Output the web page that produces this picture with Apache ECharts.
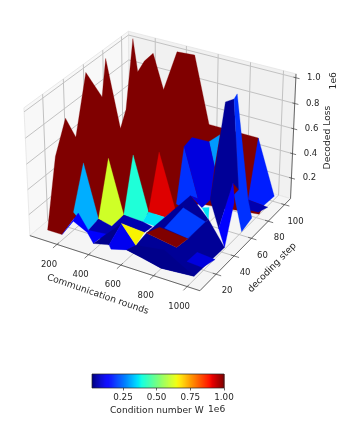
<!DOCTYPE html>
<html>
<head>
<meta charset="utf-8">
<script src="https://cdn.jsdelivr.net/npm/echarts@6/dist/echarts.min.js"></script>
<style>
html, body { margin: 0; padding: 0; background: #fff; }
#chart { width: 343px; height: 423px; }
</style>
</head>
<body>
<div id="chart"></div>
<script>
// axis ticks
const xTicks = [200, 400, 600, 800, 1000];
const yTicks = [20, 40, 60, 80, 100];
const zTicks = [0.2, 0.4, 0.6, 0.8, 1.0];
const barTicks = [0.25, 0.5, 0.75, 1.0];

// surface vertices: rounds, decoding step, loss (1e6)
const vertexX = [
  91, 105, 104, 94, 72, 122, 68, 120, 128, 87,
  129, 173, 230, 297, 383, 494, 590, 660, 899, 1012,
  1038, 668, 689, 555, 429, 304, 173, 184,
  145, 173, 334, 298, 237, 451, 429, 335, 578, 555,
  436, 686, 689, 695, 204, 444, 364, 327, 240,
  670, 620, 478, 463, 426, 630, 574, 475,
  633, 877, 916, 976, 1048, 1010, 813, 667, 724,
  739, 744, 965, 714, 950, 972, 1049, 1042, 823, 867,
  694, 702, 757, 538, 744, 665, 587, 873,
  816, 867, 963, 981, 1011, 885, 915, 1046, 1040, 935,
  990, 1024, 1037, 1032, 974, 803
];
const vertexY = [
  10, 18, 29, 40, 55, 63, 76, 82, 87, 102,
  100, 100, 100, 100, 100, 100, 100, 100, 100, 86.5,
  76, 76, 44.5, 39, 34, 29, 23.5, 10,
  39, 23.5, 13, 29, 50, 18, 34, 60, 29, 39,
  71, 34, 44.5, 23.5, 23.5, 13, 13, 13, 13,
  23.5, 23.5, 23.5, 13, 13, 13, 13, 13,
  23.5, 13, 18, 29, 34, 8, 8, 13, 55,
  44.5, 23.5, 29, 23.5, 11, 18, 23.5, 11, 50, 50,
  81, 92, 76, 81, 60, 50, 81, 50,
  76, 76, 65.5, 55, 34, 76, 86.5, 65.5, 55, 65.5,
  55, 97, 86.5, 76, 76, 13
];
const vertexZ = [
  0.05, 0.59, 0.82, 0.60, 1.01, 0.79, 1.0, 0.42, 0.55, 1.02,
  0.78, 0.88, 0.96, 0.69, 1.02, 1.03, 0.51, 0.51, 0.51, 0.09,
  0.10, 0.04, 0.205, 0.16, 0.125, 0.075, 0.08, 0.05,
  0.42, 0.135, 0.125, 0.09, 0.42, 0.17, 0.14, 0.42, 0.18, 0.18,
  0.41, 0.225, 0.22, 0.225, 0.14, 0.14, 0.03, 0.105, 0.16,
  0.215, 0.15, 0.165, 0.06, 0.11, 0.125, 0.065, 0.03,
  0.15, 0.21, 0.26, 0.36, 0.13, 0.075, 0.055, 0.04, 0.27,
  0.25, 0.235, 0.33, 0.23, 0.145, 0.175, 0.11, 0.135, 0.245, 0.265,
  0.525, 0.515, 0.38, 0.43, 0.22, 0.215, 0.52, 0.33,
  0.91, 0.95, 0.34, 0.47, 0.265, 0.995, 0.1, 0.145, 0.105, 0.29,
  0.315, 0.1, 0.085, 0.115, 0.11, 0.16
];

// facets in drawing order, back to front, with their condition number (1e6)
const facetVertices = [
  [0, 1, 2, 3, 4, 5, 6, 7, 8, 9, 10, 11, 12, 13, 14, 15, 16, 17, 18, 19, 20, 21, 22, 23, 24, 25, 26, 27],
  [74, 75, 76],
  [77, 78, 63, 64, 79],
  [77, 80, 74, 76, 81, 72, 63, 78],
  [18, 93, 19, 88],
  [88, 94, 95, 96],
  [28, 29, 30, 31],
  [32, 31, 33, 34],
  [35, 34, 36, 37],
  [38, 37, 39, 40],
  [37, 39, 41, 36],
  [31, 33, 34, 36, 47, 48, 49, 50, 30],
  [27, 42, 30, 43, 44, 45, 46],
  [44, 51, 49, 50],
  [49, 52, 53, 54, 50],
  [55, 39, 63, 58, 57],
  [64, 65, 57, 66],
  [72, 73, 58],
  [82, 83, 84, 85, 86, 81],
  [83, 87, 88, 89, 90, 91, 84],
  [86, 85, 91, 92, 59],
  [52, 55, 56, 57, 58, 59, 60, 61, 62, 53],
  [53, 52, 97, 60, 61, 62],
  [49, 48, 52],
  [55, 67, 57, 56],
  [68, 69, 70, 71]
];
const facetValue = [
  1.0, 0.29, 0.19, 0.10, 0.17, 0.06, 0.31, 0.61, 0.40, 0.92, 0.36, 0.06, 0.13,
  0.03, 0.115, 0.04, 0.2, 0.36, 0.04, 0.19, 0.13, 0.04, 0.03, 0.66, 1.0, 0.1
];

const xLim = [25, 1075];
const yLim = [2.5, 107.5];
const zLim = [0.03, 1.03];
const barMin = 0.02;
const barMax = 1.0;

// same view as a matplotlib 3d axes: elev 30, azim -60, dist 10
const elev = 30 * Math.PI / 180;
const azim = -60 * Math.PI / 180;
const boxX = 1.1428, boxY = 1.1428, boxZ = 0.8571;
const w = [Math.cos(elev) * Math.cos(azim), Math.cos(elev) * Math.sin(azim), Math.sin(elev)];
const u = [-w[1] / Math.cos(elev), w[0] / Math.cos(elev), 0];
const v = [-w[2] * u[1], w[2] * u[0], w[0] * u[1] - w[1] * u[0]];

function project(x, y, z) {
  const dx = ((x - xLim[0]) / (xLim[1] - xLim[0]) - 0.5) * boxX;
  const dy = ((y - yLim[0]) / (yLim[1] - yLim[0]) - 0.5) * boxY;
  const dz = ((z - zLim[0]) / (zLim[1] - zLim[0]) - 0.5) * boxZ;
  const depth = 10 - (w[0] * dx + w[1] * dy + w[2] * dz);
  return [
    (u[0] * dx + u[1] * dy) / depth,
    (v[0] * dx + v[1] * dy + v[2] * dz) / depth
  ];
}

function jet(value) {
  const t = (value - barMin) / (barMax - barMin);
  const clip = function (a) { return Math.round(255 * Math.max(0, Math.min(1, a))); };
  let r, g, b;
  r = t < 0.35 ? 0 : t < 0.66 ? (t - 0.35) / 0.31 : t < 0.89 ? 1 : 1 - (t - 0.89) / 0.11 * 0.5;
  g = t < 0.125 ? 0 : t < 0.375 ? (t - 0.125) / 0.25 : t < 0.64 ? 1 : 1 - (t - 0.64) / 0.27;
  b = t < 0.11 ? 0.5 + t / 0.11 * 0.5 : t < 0.34 ? 1 : 1 - (t - 0.34) / 0.31;
  return 'rgb(' + clip(r) + ',' + clip(g) + ',' + clip(b) + ')';
}

const FONT = '"DejaVu Sans"';
const TEXT = '#262626';

// goes through the hidden projected axes of the first grid
function toPixel(api, p) {
  return api.coord(project(p[0], p[1], p[2]));
}

function customSeries(items, draw, xIndex) {
  return {
    type: 'custom',
    coordinateSystem: 'cartesian2d',
    xAxisIndex: xIndex || 0,
    yAxisIndex: xIndex || 0,
    silent: true,
    animation: false,
    clip: false,
    data: items.map(function (_, i) { return [i, i]; }),
    renderItem: function (params, api) {
      return draw(items[params.dataIndex], api);
    }
  };
}

function drawPane(pane, api) {
  return {
    type: 'polygon',
    shape: { points: pane.corners.map(function (p) { return toPixel(api, p); }) },
    style: { fill: pane.fill, stroke: '#e4e4e4', lineWidth: 0.8 }
  };
}

function drawPath(path, api) {
  return {
    type: 'polyline',
    shape: { points: path.points.map(function (p) { return toPixel(api, p); }) },
    style: { fill: 'none', stroke: path.color, lineWidth: path.width }
  };
}

function drawFacet(i, api) {
  return {
    type: 'polygon',
    shape: {
      points: facetVertices[i].map(function (k) {
        return toPixel(api, [vertexX[k], vertexY[k], vertexZ[k]]);
      })
    },
    style: { fill: jet(facetValue[i]), stroke: jet(facetValue[i]), lineWidth: 0.3 }
  };
}

function drawLabel(label, api) {
  const at = toPixel(api, label.at);
  return {
    type: 'text',
    x: at[0] + label.dx,
    y: at[1] + label.dy,
    rotation: label.rotation || 0,
    style: {
      text: label.text,
      fill: TEXT,
      font: (label.size || 8.5) + 'px ' + FONT,
      align: 'center',
      verticalAlign: 'middle'
    }
  };
}

const panes = [
  { fill: '#f8f8f8', corners: [[xLim[0], yLim[0], zLim[0]], [xLim[0], yLim[1], zLim[0]], [xLim[0], yLim[1], zLim[1]], [xLim[0], yLim[0], zLim[1]]] },
  { fill: '#f1f1f1', corners: [[xLim[0], yLim[1], zLim[0]], [xLim[1], yLim[1], zLim[0]], [xLim[1], yLim[1], zLim[1]], [xLim[0], yLim[1], zLim[1]]] },
  { fill: '#f5f5f5', corners: [[xLim[0], yLim[0], zLim[0]], [xLim[1], yLim[0], zLim[0]], [xLim[1], yLim[1], zLim[0]], [xLim[0], yLim[1], zLim[0]]] }
];

const gridLines = [];
const axisLines = [];
const GRID = '#c2c2c2';
const AXIS = '#444';
xTicks.forEach(function (x) {
  gridLines.push({ color: GRID, width: 1, points: [[x, yLim[0], zLim[0]], [x, yLim[1], zLim[0]], [x, yLim[1], zLim[1]]] });
  axisLines.push({ color: AXIS, width: 0.7, points: [[x, yLim[0] + 2, zLim[0]], [x, yLim[0] - 4, zLim[0]]] });
});
yTicks.forEach(function (y) {
  gridLines.push({ color: GRID, width: 1, points: [[xLim[1], y, zLim[0]], [xLim[0], y, zLim[0]], [xLim[0], y, zLim[1]]] });
  axisLines.push({ color: AXIS, width: 0.7, points: [[xLim[1] - 20, y, zLim[0]], [xLim[1] + 30, y, zLim[0]]] });
});
zTicks.forEach(function (z) {
  gridLines.push({ color: GRID, width: 1, points: [[xLim[0], yLim[0], z], [xLim[0], yLim[1], z], [xLim[1], yLim[1], z]] });
  axisLines.push({ color: AXIS, width: 0.7, points: [[xLim[1] - 14, yLim[1], z], [xLim[1] + 22, yLim[1], z]] });
});
axisLines.push({ color: AXIS, width: 0.8, points: [[xLim[0], yLim[0], zLim[0]], [xLim[1], yLim[0], zLim[0]]] });
axisLines.push({ color: AXIS, width: 0.8, points: [[xLim[1], yLim[0], zLim[0]], [xLim[1], yLim[1], zLim[0]]] });
axisLines.push({ color: AXIS, width: 0.8, points: [[xLim[1], yLim[1], zLim[0]], [xLim[1], yLim[1], zLim[1]]] });

const labels = [];
xTicks.forEach(function (x) {
  labels.push({ text: String(x), at: [x, yLim[0], zLim[0]], dx: -8, dy: 20 });
});
yTicks.forEach(function (y) {
  labels.push({ text: String(y), at: [xLim[1], y, zLim[0]], dx: 11, dy: 17 });
});
zTicks.forEach(function (z) {
  labels.push({ text: z.toFixed(1), at: [xLim[1], yLim[1], z], dx: 18, dy: 0 });
});
labels.push({ text: 'Communication rounds', at: [550, yLim[0], zLim[0]], dx: -15, dy: 32, rotation: -0.33, size: 9.2 });
labels.push({ text: 'decoding step', at: [xLim[1], 55, zLim[0]], dx: 25, dy: 25, rotation: 0.8, size: 9.2 });
labels.push({ text: 'Decoded Loss', at: [xLim[1], yLim[1], 0.53], dx: 34, dy: 0, rotation: Math.PI / 2, size: 9.2 });
labels.push({ text: '1e6', at: [xLim[1], yLim[1], 1.0], dx: 38, dy: 3, rotation: Math.PI / 2, size: 9.2 });

const barBins = [];
for (let b = 0; b < 130; b++) barBins.push(b);

function drawBin(b, api) {
  const a = barMin + (barMax - barMin) * b / barBins.length;
  const c = barMin + (barMax - barMin) * (b + 1) / barBins.length;
  const p0 = api.coord([a, 1]);
  const p1 = api.coord([c, 0]);
  return {
    type: 'rect',
    shape: { x: p0[0], y: p0[1], width: p1[0] - p0[0] + 0.5, height: p1[1] - p0[1] },
    style: { fill: jet((a + c) / 2) }
  };
}

function drawFrame(_, api) {
  const p0 = api.coord([barMin, 1]);
  const p1 = api.coord([barMax, 0]);
  return {
    type: 'rect',
    shape: { x: p0[0], y: p0[1], width: p1[0] - p0[0], height: p1[1] - p0[1] },
    style: { fill: 'none', stroke: '#222', lineWidth: 0.7 }
  };
}

const facetIds = facetVertices.map(function (_, i) { return i; });

const chart = echarts.init(document.getElementById('chart'), null, { renderer: 'canvas' });
chart.setOption({
  animation: false,
  backgroundColor: '#fff',
  textStyle: { fontFamily: FONT },
  grid: [
    { left: 0, top: 0, width: 343, height: 423 },
    { left: 92, top: 374, width: 132, height: 14 }
  ],
  xAxis: [
    { type: 'value', show: false, min: -162.5 / 1705, max: 180.5 / 1705 },
    {
      type: 'value', gridIndex: 1, min: barMin, max: barMax,
      splitLine: { show: false },
      axisLine: { show: false },
      axisTick: { length: 2.5, lineStyle: { color: '#222', width: 0.7 }, customValues: barTicks },
      axisLabel: {
        customValues: barTicks, color: TEXT, fontSize: 8.8, fontFamily: FONT, margin: 5,
        formatter: function (val) { return val.toFixed(2); }
      }
    }
  ],
  yAxis: [
    { type: 'value', show: false, min: 155 / 1700 - 423 / 1700, max: 155 / 1700 },
    { type: 'value', gridIndex: 1, show: false, min: 0, max: 1 }
  ],
  series: [
    customSeries(panes, drawPane),
    customSeries(gridLines, drawPath),
    customSeries(axisLines, drawPath),
    customSeries(facetIds, drawFacet),
    customSeries(labels, drawLabel),
    customSeries(barBins, drawBin, 1),
    customSeries([0], drawFrame, 1)
  ],
  graphic: [
    { type: 'text', left: 110, top: 406, style: { text: 'Condition number W', fill: TEXT, font: '9.1px ' + FONT } },
    { type: 'text', left: 208, top: 405.5, style: { text: '1e6', fill: TEXT, font: '9.1px ' + FONT } }
  ]
});
</script>
</body>
</html>
